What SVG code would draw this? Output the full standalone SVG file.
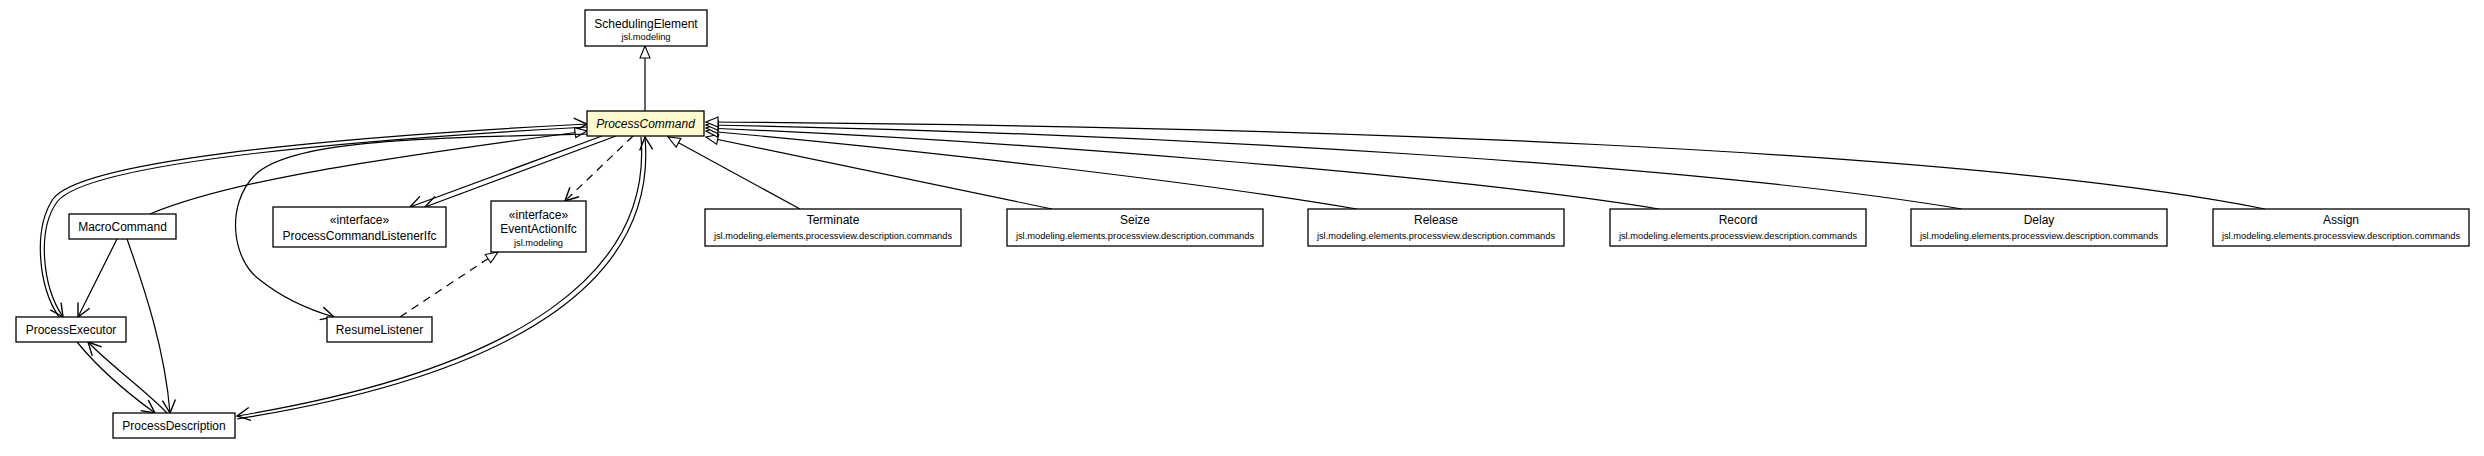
<svg xmlns="http://www.w3.org/2000/svg" width="2484" height="456" viewBox="0 0 2484 456">
<style>
.box{fill:#fff;stroke:#000;stroke-width:1.3}
.hl{fill:#fffacd;stroke:#000;stroke-width:1.3}
text{font-family:"Liberation Sans",Arial,sans-serif;fill:#000;text-anchor:middle}
.n{font-size:12px}
.i{font-size:12px;font-style:italic}
.p{font-size:9.3px}
.e{fill:none;stroke:#000;stroke-width:1.2}
.d{stroke-dasharray:8,6}
.gen{marker-end:url(#tri)}
.arr{marker-end:url(#open)}
</style>
<defs>
<marker id="tri" markerWidth="14" markerHeight="12" refX="13" refY="6" orient="auto" markerUnits="userSpaceOnUse"><path d="M1,1 L13,6 L1,11 Z" fill="#fff" stroke="#000" stroke-width="1.1"/></marker>
<marker id="open" markerWidth="16" markerHeight="16" refX="14" refY="8" orient="auto" markerUnits="userSpaceOnUse"><path d="M1,1.5 L14,8 L1,14.5" fill="none" stroke="#000" stroke-width="1.4"/></marker>
</defs>
<rect width="2484" height="456" fill="#fff"/>
<g id="connectors">
<path class="e gen" d="M645,111 L645,46"/>
<path class="e arr" d="M587,127 C300,143 83,167 57,202 C37,230 42,286 63,317"/>
<path class="e arr" d="M59,317 C38,286 33,229 53,199 C79,163 300,139 587,124"/>
<path class="e gen" d="M150,214 C220,185 330,165 587,131"/>
<path class="e arr" d="M589,134 C420,138 290,140 255,175 C225,205 232,260 260,280 C285,300 310,310 334,317"/>
<path class="e arr" d="M602,136 L410,207"/>
<path class="e arr" d="M616,136 L425,207"/>
<path class="e d arr" d="M633,136 L565,201"/>
<path class="e d gen" d="M400,317 L498,252"/>
<path class="e arr" d="M237,419 C532,372 657,272 645,137"/>
<path class="e arr" d="M641,137 C652,268 528,368 237,416"/>
<path class="e arr" d="M117,239 L78,317"/>
<path class="e arr" d="M127,239 C145,290 165,350 170,413"/>
<path class="e arr" d="M77,342 C100,370 130,395 155,413"/>
<path class="e arr" d="M167,413 C145,390 110,365 88,342"/>
<path class="e gen" d="M800,209 L668,137"/>
<path class="e gen" d="M1052,209 L706,137"/>
<path class="e gen" d="M1357,209 C1200,182 900,148 706,131"/>
<path class="e gen" d="M1659,209 C1450,175 1000,140 706,128"/>
<path class="e gen" d="M1962,209 C1700,165 1150,133 706,125"/>
<path class="e gen" d="M2265,209 C1965,149 1300,126 706,122"/>
</g>
<g id="SchedulingElement"><rect class="box" x="585" y="10" width="122" height="36"/><text class="n" x="646" y="28">SchedulingElement</text><text class="p" x="646" y="40">jsl.modeling</text></g>
<g id="ProcessCommand"><rect class="hl" x="587" y="111" width="117" height="25"/><text class="i" x="645.5" y="128">ProcessCommand</text></g>
<g id="MacroCommand"><rect class="box" x="69" y="214" width="107" height="25"/><text class="n" x="122.5" y="231">MacroCommand</text></g>
<g id="ProcessCommandListenerIfc"><rect class="box" x="273" y="207" width="173" height="40"/><text class="n" x="359.5" y="224">«interface»</text><text class="n" x="359.5" y="240">ProcessCommandListenerIfc</text></g>
<g id="EventActionIfc"><rect class="box" x="491" y="201" width="95" height="51"/><text class="n" x="538.5" y="219">«interface»</text><text class="n" x="538.5" y="233">EventActionIfc</text><text class="p" x="538.5" y="246">jsl.modeling</text></g>
<g id="ProcessExecutor"><rect class="box" x="16" y="317" width="110" height="25"/><text class="n" x="71" y="334">ProcessExecutor</text></g>
<g id="ResumeListener"><rect class="box" x="327" y="317" width="105" height="25"/><text class="n" x="379.5" y="334">ResumeListener</text></g>
<g id="ProcessDescription"><rect class="box" x="113" y="413" width="122" height="25"/><text class="n" x="174" y="430">ProcessDescription</text></g>
<g id="Terminate"><rect class="box" x="705" y="209" width="256" height="37"/><text class="n" x="833" y="224">Terminate</text><text class="p" x="833" y="239">jsl.modeling.elements.processview.description.commands</text></g>
<g id="Seize"><rect class="box" x="1007" y="209" width="256" height="37"/><text class="n" x="1135" y="224">Seize</text><text class="p" x="1135" y="239">jsl.modeling.elements.processview.description.commands</text></g>
<g id="Release"><rect class="box" x="1308" y="209" width="256" height="37"/><text class="n" x="1436" y="224">Release</text><text class="p" x="1436" y="239">jsl.modeling.elements.processview.description.commands</text></g>
<g id="Record"><rect class="box" x="1610" y="209" width="256" height="37"/><text class="n" x="1738" y="224">Record</text><text class="p" x="1738" y="239">jsl.modeling.elements.processview.description.commands</text></g>
<g id="Delay"><rect class="box" x="1911" y="209" width="256" height="37"/><text class="n" x="2039" y="224">Delay</text><text class="p" x="2039" y="239">jsl.modeling.elements.processview.description.commands</text></g>
<g id="Assign"><rect class="box" x="2213" y="209" width="256" height="37"/><text class="n" x="2341" y="224">Assign</text><text class="p" x="2341" y="239">jsl.modeling.elements.processview.description.commands</text></g>
</svg>
